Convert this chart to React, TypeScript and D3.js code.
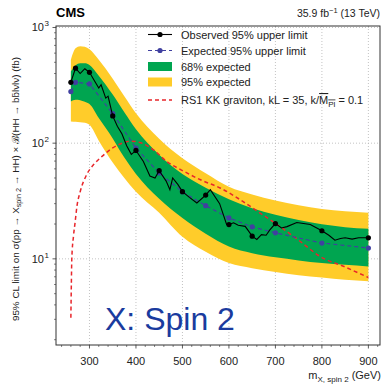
import React from "react";
import * as d3 from "d3";

const W = 383;
const H = 384;
const PL = 56, PR = 380, PT = 26, PB = 345;

// Observed limit (fine line)
const obsMass = [260, 270, 280, 290, 300, 310, 320, 325, 335, 340, 350, 360, 370, 380, 390, 400, 416, 430, 441, 450, 465, 473, 479, 490, 500, 515, 531, 550, 560, 580, 595, 600, 610, 620, 635, 650, 660, 670, 680, 688, 700, 713, 725, 746, 775, 800, 815, 828, 840, 850, 865, 879, 900];
const obsVal = [336, 445, 400, 440, 410, 350, 300, 320, 245, 255, 172, 140, 120, 95, 80, 86.5, 69.5, 52, 50, 57.8, 47, 39.6, 50, 44, 38.1, 34, 30.4, 35.6, 39.6, 30, 19.8, 19.8, 20.5, 19.5, 19.1, 15.7, 14.7, 16.2, 16, 17.8, 20.2, 18.5, 19, 20.6, 19.8, 17.5, 16, 14.5, 15, 15.2, 14.8, 15.2, 15.2];
// Observed markers
const obsPtMass = [260, 270, 300, 350, 400, 450, 500, 550, 600, 650, 700, 800, 900];
const obsPtVal = [336, 445, 410, 172, 86.5, 57.8, 38.1, 35.6, 19.8, 15.7, 20.2, 17.5, 15.2];
// Expected limit
const expMass = [260, 270, 300, 350, 400, 450, 500, 550, 600, 650, 700, 800, 900];
const expVal = [279, 336, 325, 180, 90.8, 55.2, 38, 28.8, 22.6, 18.9, 16.8, 13.7, 12.4];
// Bands
const bandMass = [260, 270, 280, 290, 300, 320, 350, 375, 400, 450, 500, 550, 600, 650, 700, 750, 800, 850, 900];
const b95lo = [154, 153, 152, 150, 144, 105, 68, 50, 38, 25, 15.5, 11.5, 9.2, 8.3, 7.7, 7.2, 6.9, 6.6, 6.4];
const b68lo = [229, 237, 235, 228, 218, 165, 110, 75, 54, 33, 22.5, 16.5, 12.8, 11.2, 10.3, 9.7, 9.2, 8.9, 8.6];
const b68hi = [416, 470, 490, 490, 475, 383, 263, 185, 132, 79.5, 54, 41.2, 32.7, 27.4, 24.1, 21.7, 19.9, 18.8, 18.2];
const b95hi = [525, 660, 690, 680, 650, 527, 361, 254, 181, 109, 74, 55, 42, 36, 32, 29, 27, 25.8, 25];
// RS1 KK graviton
const rsMass = [260, 261, 262, 265.6, 269, 273, 280, 294, 310, 327, 350, 370, 390, 410, 440, 466, 500, 540, 581, 624, 660, 699, 750, 796, 850, 900];
const rsVal = [3.1, 6, 10, 15.7, 20.5, 28.4, 38, 53.4, 66, 76.8, 91, 100, 104, 101, 86, 69.5, 58, 48, 41, 32.5, 26, 20.4, 14.5, 10.5, 8.5, 6.9];

const xTicks = [300, 400, 500, 600, 700, 800, 900];
const yTicks = [10, 100, 1000];
const yTickExp = ["1", "2", "3"];

const FONT = "'Liberation Sans', Arial, sans-serif";
const GREEN = "#00a550";
const YELLOW = "#ffcc2a";
const BLUE = "#4040a0";
const RED = "#e8262b";

export default function App() {
  const x = d3.scaleLinear().domain([228, 925]).range([PL, PR]);
  const y = d3.scaleLog().domain([1.8, 1030]).range([PB, PT]);

  const area95 = d3.area<number>().x((_, i) => x(bandMass[i])).y0((_, i) => y(b95lo[i])).y1((_, i) => y(b95hi[i])).curve(d3.curveMonotoneX);
  const area68 = d3.area<number>().x((_, i) => x(bandMass[i])).y0((_, i) => y(b68lo[i])).y1((_, i) => y(b68hi[i])).curve(d3.curveMonotoneX);
  const lineXY = d3.line<[number, number]>().x((d) => x(d[0])).y((d) => y(d[1]));
  const rsLine = d3.line<[number, number]>().x((d) => x(d[0])).y((d) => y(d[1])).curve(d3.curveMonotoneX);

  const obsData = obsMass.map((m, i) => [m, obsVal[i]] as [number, number]);
  const expData = expMass.map((m, i) => [m, expVal[i]] as [number, number]);
  const rsData = rsMass.map((m, i) => [m, rsVal[i]] as [number, number]);

  const xMinor: number[] = [];
  for (let v = 240; v <= 920; v += 20) if (v % 100 !== 0) xMinor.push(v);
  const yMinor: number[] = [];
  for (const dec of [1, 10, 100]) for (let k = 2; k <= 9; k++) { const v = dec * k; if (v >= 1.8 && v <= 1030) yMinor.push(v); }

  const lx0 = 148, lx1 = 172, ltx = 181;
  const rows = [34.5, 50.5, 66.5, 82, 100];

  return (
    <div style={{ position: "fixed", left: 0, top: 0, width: W, height: H, background: "#fff" }}>
      <svg width={W} height={H} style={{ display: "block", fontFamily: FONT }}>
        <rect x={0} y={0} width={W} height={H} fill="#fff" />
        {/* grid */}
        {xTicks.map((t) => (
          <line key={"gx" + t} x1={x(t)} x2={x(t)} y1={PT} y2={PB} stroke="#b4b4b4" strokeWidth={0.8} strokeDasharray="1,2" />
        ))}
        {yTicks.map((t) => (
          <line key={"gy" + t} x1={PL} x2={PR} y1={y(t)} y2={y(t)} stroke="#b4b4b4" strokeWidth={0.8} strokeDasharray="1,2" />
        ))}
        {/* bands */}
        <path d={area95(bandMass) || ""} fill={YELLOW} />
        <path d={area68(bandMass) || ""} fill={GREEN} />
        {/* RS1 */}
        <path d={rsLine(rsData) || ""} fill="none" stroke={RED} strokeWidth={1.5} strokeDasharray="4,3" />
        {/* expected */}
        <path d={lineXY(expData) || ""} fill="none" stroke={BLUE} strokeWidth={1.2} strokeDasharray="4,3" />
        {expData.map((d, i) => (
          <circle key={"e" + i} cx={x(d[0])} cy={y(d[1])} r={2.6} fill={BLUE} />
        ))}
        {/* observed */}
        <path d={lineXY(obsData) || ""} fill="none" stroke="#000" strokeWidth={1.1} />
        {obsPtMass.map((m, i) => (
          <circle key={"o" + i} cx={x(m)} cy={y(obsPtVal[i])} r={2.6} fill="#000" />
        ))}
        {/* frame */}
        <rect x={PL} y={PT} width={PR - PL} height={PB - PT} fill="none" stroke="#333" strokeWidth={1} />
        {/* x ticks */}
        {xTicks.map((t) => (
          <g key={"xt" + t}>
            <line x1={x(t)} x2={x(t)} y1={PB} y2={PB + 3.5} stroke="#333" strokeWidth={0.8} />
            <text x={x(t)} y={365} fontSize={11} textAnchor="middle" fill="#222">{t}</text>
          </g>
        ))}
        {xMinor.map((t) => (
          <line key={"xm" + t} x1={x(t)} x2={x(t)} y1={PB} y2={PB + 2} stroke="#333" strokeWidth={0.6} />
        ))}
        {/* y ticks */}
        {yTicks.map((t, i) => (
          <g key={"yt" + t}>
            <line x1={PL - 3.5} x2={PL} y1={y(t)} y2={y(t)} stroke="#333" strokeWidth={0.8} />
            <text x={44} y={y(t) + 4} fontSize={11} textAnchor="end" fill="#222">10</text>
            <text x={44.5} y={y(t) - 1} fontSize={8} textAnchor="start" fill="#222">{yTickExp[i]}</text>
          </g>
        ))}
        {yMinor.map((t) => (
          <line key={"ym" + t} x1={PL - 2} x2={PL} y1={y(t)} y2={y(t)} stroke="#333" strokeWidth={0.6} />
        ))}
        {/* titles */}
        <text x={56} y={17} fontSize={13} fontWeight="bold" fill="#000">CMS</text>
        <text x={380} y={17} fontSize={10.5} textAnchor="end" fill="#222">
          35.9 fb<tspan dy={-4} fontSize={7.5}>−1</tspan><tspan dy={4}> (13 TeV)</tspan>
        </text>
        {/* x label */}
        <text x={381} y={379} fontSize={11} textAnchor="end" fill="#222">
          m<tspan dy={2.5} fontSize={8}>X, spin 2</tspan><tspan dy={-2.5}> (GeV)</tspan>
        </text>
        {/* y label */}
        <text transform="translate(19,189) rotate(-90)" fontSize={9.9} textAnchor="middle" fill="#222">
          95% CL limit on σ(pp → X<tspan dy={2} fontSize={7.2}>spin 2</tspan><tspan dy={-2}> → HH) × ℬ(HH → bb̄lνlν) (fb)</tspan>
        </text>
        {/* Spin label */}
        <text x={105} y={330} fontSize={32} fill="#1a3b9e">X: Spin 2</text>
        {/* legend */}
        <line x1={lx0} x2={lx1} y1={rows[0]} y2={rows[0]} stroke="#000" strokeWidth={1.1} />
        <circle cx={(lx0 + lx1) / 2} cy={rows[0]} r={2.6} fill="#000" />
        <line x1={lx0} x2={lx1} y1={rows[1]} y2={rows[1]} stroke={BLUE} strokeWidth={1.2} strokeDasharray="4,3" />
        <circle cx={(lx0 + lx1) / 2} cy={rows[1]} r={2.6} fill={BLUE} />
        <rect x={lx0} y={rows[2] - 4.5} width={lx1 - lx0} height={9} fill={GREEN} />
        <rect x={lx0} y={rows[3] - 4.5} width={lx1 - lx0} height={9} fill={YELLOW} />
        <line x1={lx0} x2={lx1} y1={rows[4]} y2={rows[4]} stroke={RED} strokeWidth={1.5} strokeDasharray="4,3" />
        <text x={ltx} y={rows[0] + 4} fontSize={11} fill="#222">Observed 95% upper limit</text>
        <text x={ltx} y={rows[1] + 4} fontSize={11} fill="#222">Expected 95% upper limit</text>
        <text x={ltx} y={rows[2] + 4} fontSize={11} fill="#222">68% expected</text>
        <text x={ltx} y={rows[3] + 4} fontSize={11} fill="#222">95% expected</text>
        <text x={ltx} y={rows[4] + 4} fontSize={11} fill="#222">
          RS1 KK graviton, kL = 35, k/<tspan style={{ textDecoration: "overline" }}>M</tspan><tspan dy={2.5} fontSize={8} style={{ textDecoration: "overline" }}>Pl</tspan><tspan dy={-2.5}> = 0.1</tspan>
        </text>
      </svg>
    </div>
  );
}
